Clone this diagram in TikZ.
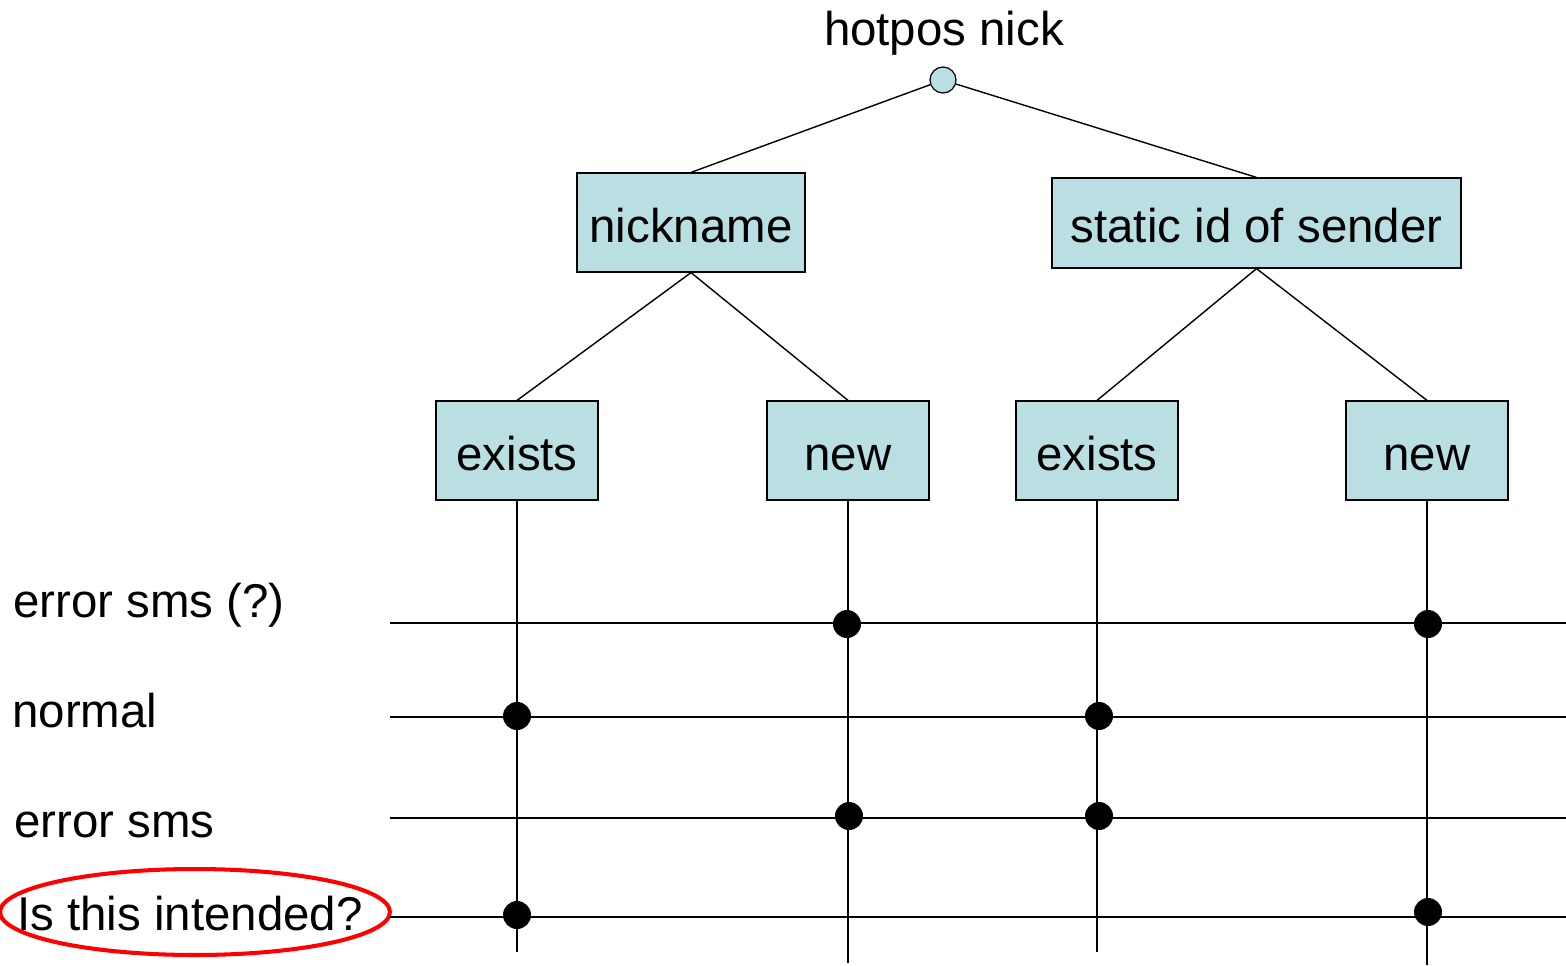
\documentclass[tikz,border=0pt]{standalone}
\usepackage{fontspec}
\setmainfont{Liberation Sans}
\usetikzlibrary{positioning,calc}
\definecolor{boxcyan}{HTML}{BADFE3}

\begin{document}
\begin{tikzpicture}[
    x=0.02cm,y=-0.02cm,
    lbl/.style  = {font=\fontsize{27}{32}\selectfont,inner sep=0pt},
    box/.style  = {rectangle,draw=black,fill=boxcyan,line width=0.7pt,
                   font=\fontsize{27}{32}\selectfont,inner sep=0pt,
                   text height=22.5pt,text depth=0pt},
    leaf/.style = {box,minimum width=3.24cm,minimum height=1.98cm},
    ln/.style   = {black,line width=0.8pt},
    dot/.style  = {circle,fill=black,inner sep=0pt,minimum size=0.56cm},
  ]
  \useasboundingbox (0,0) rectangle (1566,965);

  % tree
  \node[circle,draw=black,fill=boxcyan,line width=0.7pt,inner sep=0pt,
        minimum size=0.52cm] (root) at (943,80) {};
  \node[lbl,anchor=base] (title) at (944,45) {hotpos nick};

  \node[box,minimum width=4.56cm,minimum height=1.98cm] (nick) at (691,222.5) {nickname};
  \node[box,minimum width=8.18cm,minimum height=1.80cm] (sid) at (1256.5,223) {static id of sender};

  \node[leaf] (ex1) at (517,450.5)  {exists};
  \node[leaf] (nw1) at (848,450.5)  {new};
  \node[leaf] (ex2) at (1097,450.5) {exists};
  \node[leaf] (nw2) at (1427,450.5) {new};

  \foreach \a/\b in {root/nick,root/sid} \draw[ln] (\a) -- (\b.north);
  \foreach \a/\b in {nick/ex1,nick/nw1,sid/ex2,sid/nw2} \draw[ln] (\a.south) -- (\b.north);

  % row labels
  \node[lbl,anchor=base west] (l1) at (13,617) {error sms (?)};
  \node[lbl,anchor=base west] (l2) at (12,727) {normal};
  \node[lbl,anchor=base west] (l3) at (14,837) {error sms};
  \node[lbl,anchor=base west] (l4) at (17,930) {Is this intended?};
  \draw[red,line width=2.3pt] (195,912) ellipse [x radius=3.9cm,y radius=0.86cm];

  % rows
  \coordinate (r1a) at (390,623);  \coordinate (r1b) at (1566,623);
  \coordinate (r2a) at (390,717);  \coordinate (r2b) at (1566,717);
  \coordinate (r3a) at (390,818);  \coordinate (r3b) at (1566,818);
  \coordinate (r4a) at (390,917);  \coordinate (r4b) at (1566,917);
  \foreach \r in {1,2,3,4} \draw[ln] (r\r a) -- (r\r b);

  % columns
  \coordinate (c1) at (517,952);
  \coordinate (c2) at (848,963);
  \coordinate (c3) at (1097,952);
  \coordinate (c4) at (1427,965);
  \foreach \b/\c in {ex1/c1,nw1/c2,ex2/c3,nw2/c4} \draw[ln] (\b.south) -- (\c);

  % selections
  \node[dot] (d11) at (847,624)  {};
  \node[dot] (d14) at (1428,624) {};
  \node[dot] (d21) at (517,716)  {};
  \node[dot] (d23) at (1099,716) {};
  \node[dot] (d32) at (849,816)  {};
  \node[dot] (d33) at (1099,816) {};
  \node[dot] (d41) at (517,915)  {};
  \node[dot] (d44) at (1428,912) {};

\end{tikzpicture}
\end{document}
